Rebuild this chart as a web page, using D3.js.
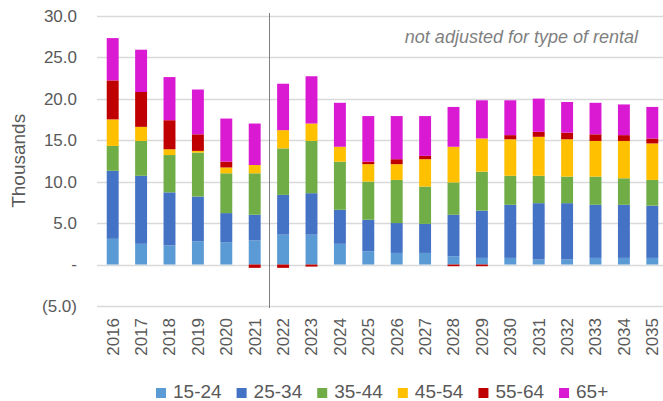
<!DOCTYPE html>
<html>
<head>
<meta charset="utf-8">
<script src="https://cdn.jsdelivr.net/npm/d3@7"></script>
<style>
  body { margin: 0; background: #fff; }
  text { font-family: "Liberation Sans", Arial, sans-serif; }
</style>
</head>
<body>
<div class="chart"></div>
<script>
"use strict";

const years = ["2016", "2017", "2018", "2019", "2020", "2021", "2022", "2023", "2024", "2025",
  "2026", "2027", "2028", "2029", "2030", "2031", "2032", "2033", "2034", "2035"];
const ageGroups = ["15-24", "25-34", "35-44", "45-54", "55-64", "65+"];
const colours = ["#5B9BD5", "#4472C4", "#70AD47", "#FFC000", "#C00000", "#DA1AD2"];

// thousands, per age group
const age15_24 = [3.1, 2.5, 2.3, 2.8, 2.7, 2.9, 3.6, 3.6, 2.5, 1.6, 1.4, 1.4, 1.0, 0.8, 0.8, 0.6, 0.6, 0.8, 0.8, 0.8];
const age25_34 = [8.2, 8.2, 6.4, 5.4, 3.5, 3.1, 4.8, 5.0, 4.1, 3.8, 3.6, 3.5, 5.0, 5.7, 6.4, 6.8, 6.8, 6.4, 6.4, 6.3];
const age35_44 = [3.0, 4.2, 4.5, 5.3, 4.8, 5.0, 5.6, 6.3, 5.8, 4.6, 5.2, 4.5, 3.9, 4.7, 3.5, 3.3, 3.2, 3.4, 3.2, 3.1];
const age45_54 = [3.2, 1.7, 0.7, 0.2, 0.7, 1.0, 2.2, 2.1, 1.8, 2.1, 1.9, 3.3, 4.3, 4.0, 4.4, 4.7, 4.5, 4.3, 4.5, 4.4];
const age55_64 = [4.7, 4.2, 3.5, 2.0, 0.7, -0.4, -0.4, -0.25, 0.0, 0.3, 0.6, 0.4, -0.2, -0.2, 0.5, 0.6, 0.8, 0.8, 0.7, 0.6];
const age65plus = [5.1, 5.1, 5.2, 5.4, 5.2, 5.0, 5.6, 5.7, 5.3, 5.5, 5.2, 4.8, 4.8, 4.6, 4.2, 4.0, 3.7, 3.8, 3.7, 3.8];

const yTicks = [-5, 0, 5, 10, 15, 20, 25, 30];
const note = "not adjusted for type of rental";

const series = [age15_24, age25_34, age35_44, age45_54, age55_64, age65plus];
const data = years.map((y, i) => {
  const row = { year: y };
  ageGroups.forEach((g, j) => (row[g] = series[j][i]));
  return row;
});

const WIDTH = 663, HEIGHT = 401;
const svg = d3.select(".chart").append("svg")
  .attr("width", WIDTH).attr("height", HEIGHT);

const xScale = d3.scaleBand().domain(years).range([98.5, 666.5]).paddingInner(0.58).paddingOuter(0.29);
const yScale = d3.scaleLinear().domain([-5, 30]).range([306, 15.7]);

// gridlines
svg.append("g").selectAll("line").data(yTicks).join("line")
  .attr("x1", 97).attr("x2", 663)
  .attr("y1", (d) => Math.round(yScale(d)) + 0.5)
  .attr("y2", (d) => Math.round(yScale(d)) + 0.5)
  .attr("stroke", "#d9d9d9").attr("stroke-width", 1.3);

// y labels
const fmt = (d) => (d === 0 ? "-" : d < 0 ? "(" + d3.format(".1f")(-d) + ")" : d3.format(".1f")(d));
svg.append("g").selectAll("text").data(yTicks).join("text")
  .attr("x", 77).attr("y", (d) => yScale(d)).attr("dy", "0.35em")
  .attr("text-anchor", "end").attr("font-size", 17).attr("fill", "#595959")
  .text(fmt);

svg.append("text")
  .attr("transform", `translate(25, ${yScale(12.5)}) rotate(-90)`)
  .attr("text-anchor", "middle").attr("font-size", 19).attr("fill", "#595959")
  .text("Thousands");

// stacked bars
const stacked = d3.stack().keys(ageGroups).offset(d3.stackOffsetDiverging)(data);
svg.append("g").selectAll("g").data(stacked).join("g")
  .attr("fill", (d, i) => colours[i])
  .selectAll("rect").data((d) => d).join("rect")
  .attr("x", (d) => xScale(d.data.year))
  .attr("width", xScale.bandwidth())
  .attr("y", (d) => yScale(Math.max(d[0], d[1])))
  .attr("height", (d) => Math.abs(yScale(d[0]) - yScale(d[1])));

// divider between 2021 and 2022
const divX = Math.round(xScale("2022") - xScale.step() * xScale.paddingInner() / 2) + 0.5;
svg.append("line")
  .attr("x1", divX).attr("x2", divX).attr("y1", 13).attr("y2", 308)
  .attr("stroke", "#7f7f7f").attr("stroke-width", 1);

// x labels
svg.append("g").selectAll("text").data(years).join("text")
  .attr("transform", (d) => `translate(${xScale(d) + xScale.bandwidth() / 2}, 318) rotate(-90)`)
  .attr("dy", "0.35em").attr("text-anchor", "end")
  .attr("font-size", 17).attr("fill", "#595959")
  .text((d) => d);

// note
svg.append("text")
  .attr("x", 638).attr("y", 43).attr("text-anchor", "end")
  .attr("font-size", 18).attr("font-style", "italic").attr("fill", "#7f7f7f")
  .text(note);

// legend
const legend = svg.append("g");
let lx = 156;
ageGroups.forEach((g, i) => {
  legend.append("rect").attr("x", lx).attr("y", 388).attr("width", 10).attr("height", 10)
    .attr("fill", colours[i]);
  const t = legend.append("text").attr("x", lx + 17).attr("y", 398)
    .attr("font-size", 19).attr("fill", "#595959").text(g);
  lx += 17 + t.node().getComputedTextLength() + 15;
});
</script>
</body>
</html>
